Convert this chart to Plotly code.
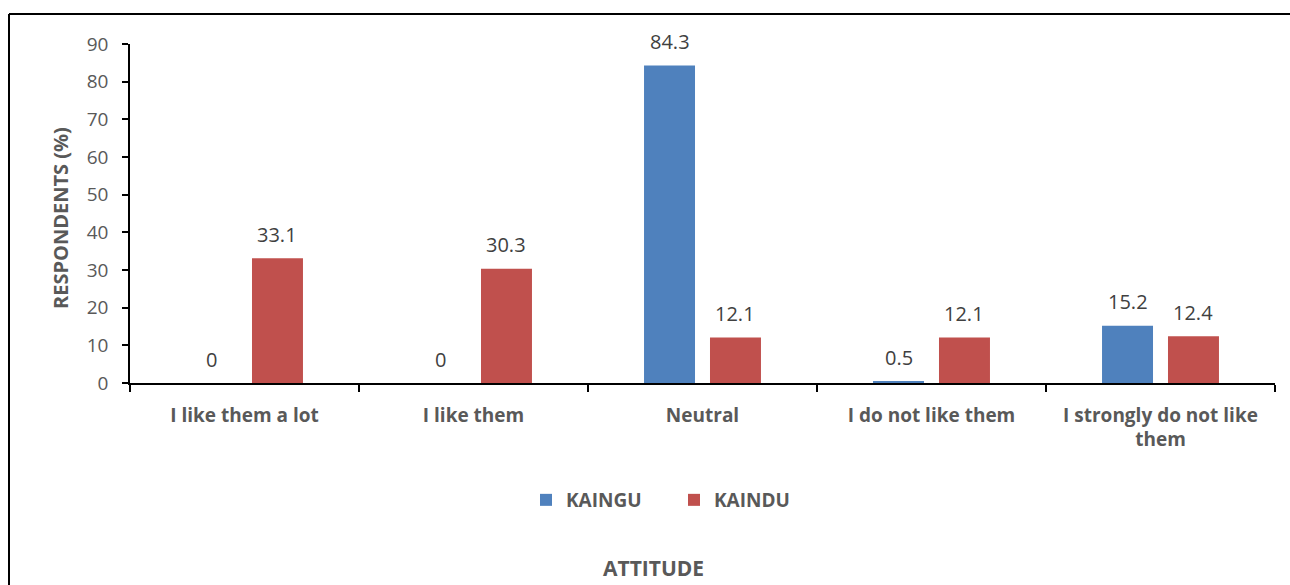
import plotly.graph_objects as go

categories = ["I like them a lot", "I like them", "Neutral", "I do not like them",
              "I strongly do not like<br>them"]
kaingu = [0, 0, 84.3, 0.5, 15.2]
kaindu = [33.1, 30.3, 12.1, 12.1, 12.4]
y_ticks = [0, 10, 20, 30, 40, 50, 60, 70, 80, 90]

FONT = "Open Sans, Liberation Sans, sans-serif"
GREY = "#595959"
LABEL = "#404040"

L, R, T, B = 130, 1275, 44, 383
W, H = R - L, B - T
BARGAP, GROUPGAP = 0.424, 0.227


def px(x):
    return (x - L) / W


def py(y):
    return (B - y) / H


fig = go.Figure()
fig.add_trace(go.Bar(name="KAINGU", x=categories, y=kaingu, marker_color="#4F81BD",
                     marker_line_width=0))
fig.add_trace(go.Bar(name="KAINDU", x=categories, y=kaindu, marker_color="#C0504D",
                     marker_line_width=0))

# value labels above each bar, shifted to the bar's slot within its group
cat_px = W / len(categories)
slot_px = (1 - BARGAP) * cat_px / 2
annotations = []
for series, sign in ((kaingu, -1), (kaindu, 1)):
    for cat, v in zip(categories, series):
        annotations.append(dict(
            x=cat, y=v, xref="x", yref="y", text=str(v), showarrow=False,
            xanchor="center", yanchor="middle", xshift=sign * slot_px / 2,
            yshift=24, font=dict(size=20, color=LABEL, family=FONT)))

annotations += [
    dict(text="<b>RESPONDENTS (%)</b>", xref="paper", yref="paper", x=px(60),
         y=py(218), textangle=-90, showarrow=False, xanchor="center",
         yanchor="middle", font=dict(size=20, color=GREY, family=FONT)),
    dict(text="<b>ATTITUDE</b>", xref="paper", yref="paper", x=px(653),
         y=py(568), showarrow=False, xanchor="center", yanchor="middle",
         font=dict(size=21, color=GREY, family=FONT)),
]

fig.update_layout(
    width=1290, height=585,
    margin=dict(l=L, r=1290 - R, t=T, b=585 - B, pad=0),
    paper_bgcolor="white", plot_bgcolor="white",
    barmode="group", bargap=BARGAP, bargroupgap=GROUPGAP,
    font=dict(family=FONT, color=GREY),
    showlegend=True,
    legend=dict(orientation="h", x=px(674), xanchor="center", y=py(500),
                yanchor="middle",
                font=dict(size=19, color=GREY, family=FONT, weight="bold"),
                itemwidth=30, traceorder="normal", entrywidth=103),
    xaxis=dict(showline=True, linecolor="black", linewidth=1.5, ticks="outside",
               tickson="boundaries", ticklen=7, tickcolor="black", tickwidth=1.5,
               ticklabelstandoff=14,
               tickfont=dict(size=19, color=GREY, family=FONT, weight="bold"),
               showgrid=False),
    yaxis=dict(range=[0, 90], tickvals=y_ticks, showline=True, linecolor="black",
               linewidth=1.5, ticks="outside", ticklen=6, tickcolor="black",
               tickwidth=1.5, ticklabelstandoff=10,
               tickfont=dict(size=19, color=GREY, family=FONT),
               showgrid=False, zeroline=False),
    annotations=annotations,
    shapes=[
        dict(type="line", xref="paper", yref="paper", x0=px(9), x1=px(1300),
             y0=py(14), y1=py(14), line=dict(color="black", width=2)),
        dict(type="line", xref="paper", yref="paper", x0=px(9), x1=px(9),
             y0=py(14), y1=py(600), line=dict(color="black", width=2)),
    ],
)

fig.write_html("out.html")
